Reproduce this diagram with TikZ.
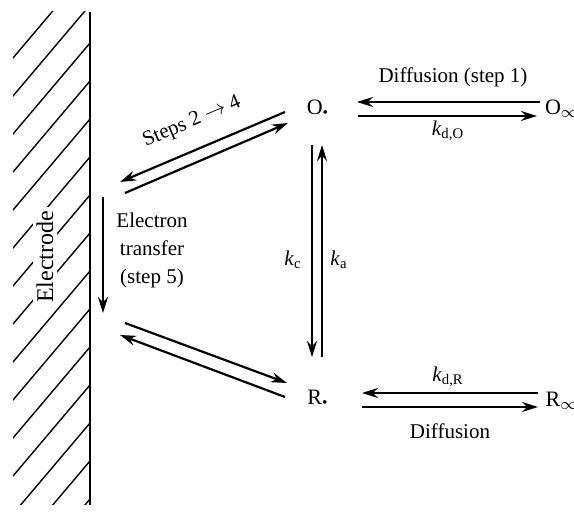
\documentclass[tikz,border=0pt]{standalone}
\usepackage{fontspec}
\setmainfont{Liberation Serif}
\usetikzlibrary{arrows.meta}

\begin{document}
\begin{tikzpicture}[x=0.5pt, y=-0.5pt,
    lbl/.style={font=\fontsize{10.5}{14}\selectfont, inner sep=1pt},
    species/.style={font=\fontsize{11}{13}\selectfont, inner sep=1pt},
    rarrow/.style={-{Stealth[length=8pt,width=5pt]}, line width=1.1pt},
    hatchline/.style={line width=0.7pt}
  ]
    \useasboundingbox (0,0) rectangle (574,517);

    \begin{scope}
      \clip (13,12) rectangle (90,505);
      \foreach \y in {-33,5,...,620}
        \draw[hatchline] (90,\y) -- ++(-110,130);
    \end{scope}
    \draw[line width=0.9pt] (90,12) -- (90,505);
    \node[lbl, fill=white, rotate=90, font=\fontsize{12}{14}\selectfont, inner sep=2pt] (electrode) at (45,257) {Electrode};

    \node[species] (Os) at (318,109) {O\textsubscript{\textbullet}};
    \node[species] (Oinf) at (562,109) {O$_\infty$};
    \node[species] (Rs) at (318,399) {R\textsubscript{\textbullet}};
    \node[species] (Rinf) at (562,401) {R$_\infty$};

    \node[lbl] (difO) at (453,77) {Diffusion (step 1)};
    \node[lbl] (kdO) at (448,131) {\textit{k}\textsubscript{d,O}};
    \node[lbl] (kdR) at (448,377) {\textit{k}\textsubscript{d,R}};
    \node[lbl] (difR) at (450,431) {Diffusion};
    \node[lbl] (kc) at (293,260) {\textit{k}\textsubscript{c}};
    \node[lbl] (ka) at (339,260) {\textit{k}\textsubscript{a}};
    \node[lbl, rotate=23] (steps) at (192,122) {Steps 2 $\rightarrow$ 4};
    \node[lbl, align=center] (etrans) at (152,250) {Electron\\transfer\\(step 5)};

    \coordinate (Oin) at (357,102);   \coordinate (Oout) at (540,102);
    \coordinate (Oin2) at (358,116);  \coordinate (Oout2) at (537,116);
    \coordinate (Rin) at (362,393);   \coordinate (Rout) at (538,393);
    \coordinate (Rin2) at (362,407);  \coordinate (Rout2) at (538,407);
    \coordinate (kcTop) at (312,145); \coordinate (kcBot) at (312,357);
    \coordinate (kaTop) at (322,145); \coordinate (kaBot) at (322,357);
    \coordinate (surfA) at (120,182); \coordinate (nearO) at (285,112);
    \coordinate (surfB) at (125,193); \coordinate (nearO2) at (288,123);
    \coordinate (surfC) at (125,323); \coordinate (nearR) at (287,383);
    \coordinate (surfD) at (120,335); \coordinate (nearR2) at (285,397);
    \coordinate (etTop) at (103,197); \coordinate (etBot) at (103,313);

    \draw[rarrow] (Oout) -- (Oin);
    \draw[rarrow] (Oin2) -- (Oout2);
    \draw[rarrow] (Rout) -- (Rin);
    \draw[rarrow] (Rin2) -- (Rout2);
    \draw[rarrow] (kcTop) -- (kcBot);
    \draw[rarrow] (kaBot) -- (kaTop);
    \draw[rarrow] (nearO) -- (surfA);
    \draw[rarrow] (surfB) -- (nearO2);
    \draw[rarrow] (surfC) -- (nearR);
    \draw[rarrow] (nearR2) -- (surfD);
    \draw[rarrow] (etTop) -- (etBot);
\end{tikzpicture}
\end{document}
